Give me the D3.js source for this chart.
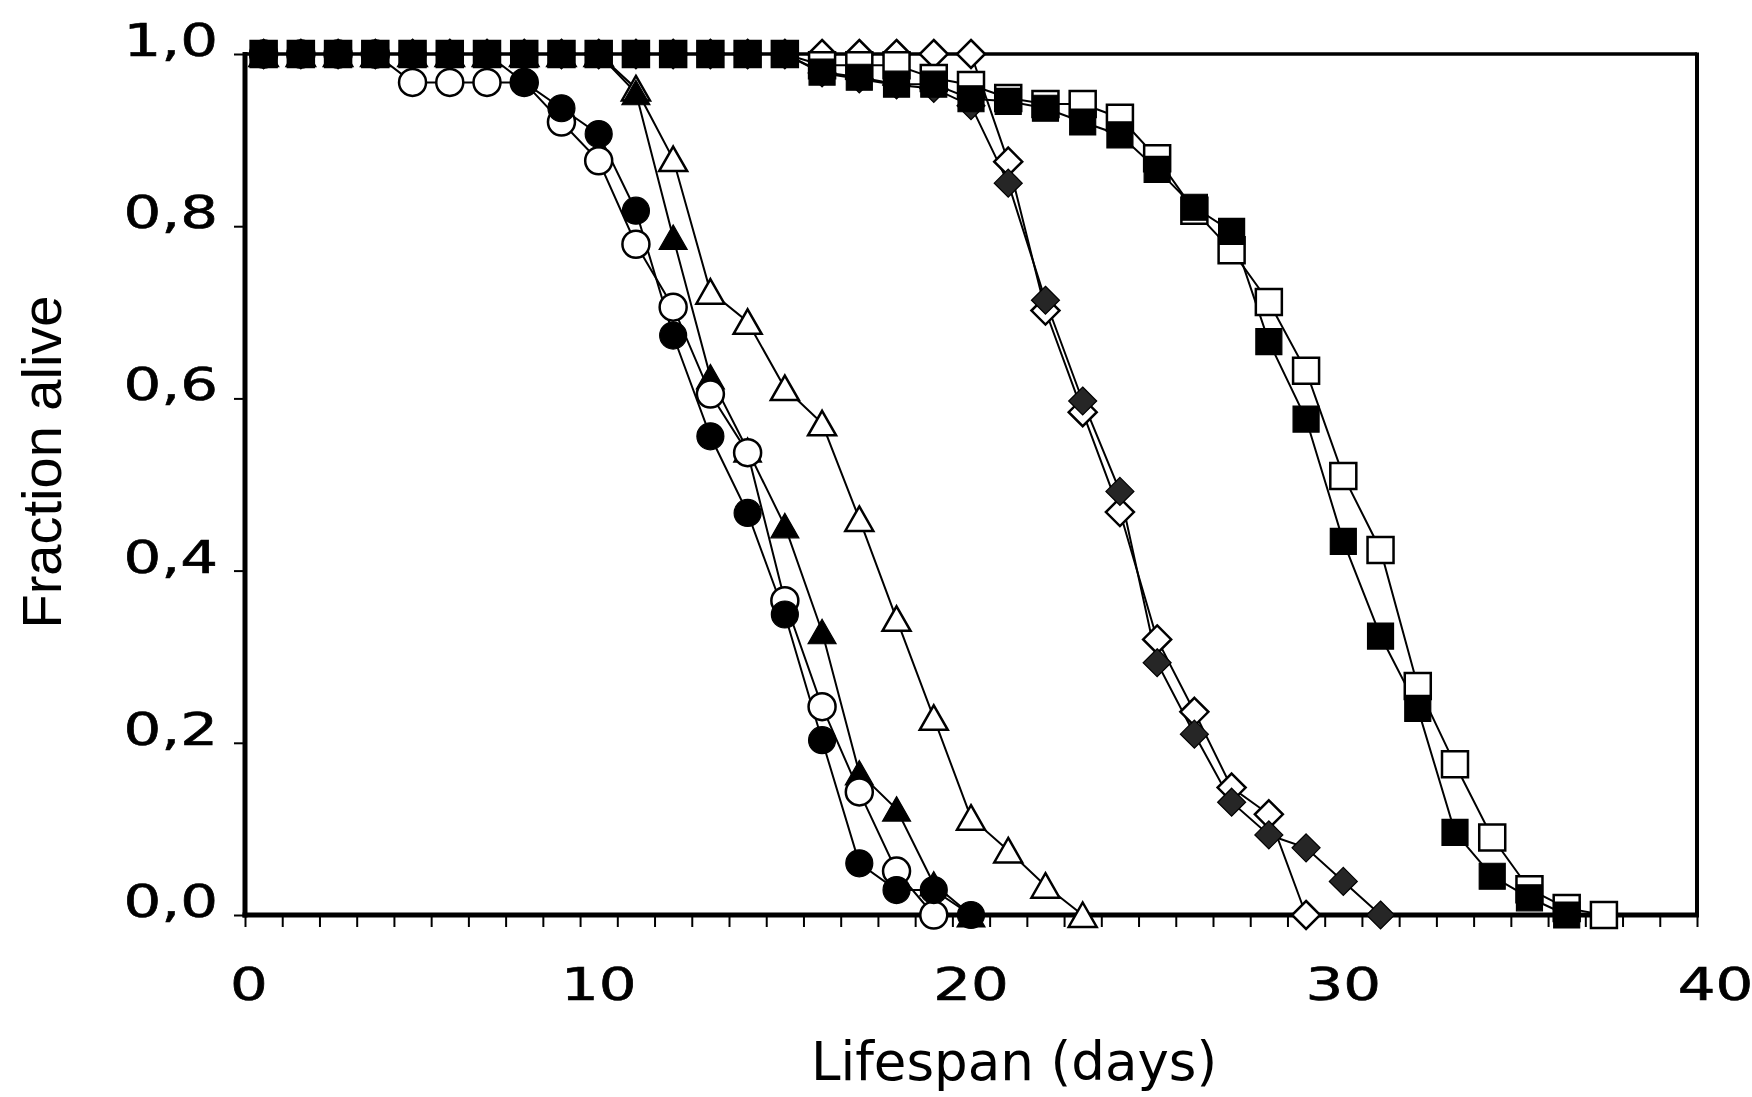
<!DOCTYPE html>
<html>
<head>
<meta charset="utf-8">
<script src="https://cdn.jsdelivr.net/npm/d3@7"></script>
<style>
  html, body { margin: 0; padding: 0; background: #fff; }
  svg { display: block; }
  .tick-label { font-family: "DejaVu Sans", Verdana, sans-serif; font-size: 44px; fill: #000; stroke: #000; stroke-width: 0.6px; }
  .title-x { font-family: "DejaVu Sans", Verdana, sans-serif; font-size: 53px; fill: #000; }
  .title-y { font-family: "Liberation Sans", Arial, sans-serif; font-size: 56px; fill: #000; }
</style>
</head>
<body>
<div id="chart"></div>
<script>
// survival curves, one value per day starting at day 1
const firstDay = 1;

const filledCircles = [1, 1, 1, 1, 1, 1, 1, 0.967, 0.937, 0.907, 0.818, 0.673, 0.556, 0.467,
  0.349, 0.203, 0.06, 0.029, 0.029, 0];
const openCircles = [1, 1, 1, 1, 0.967, 0.967, 0.967, 0.967, 0.921, 0.876, 0.779, 0.706,
  0.605, 0.537, 0.365, 0.242, 0.143, 0.051, 0];
const filledTriangles = [1, 1, 1, 1, 1, 1, 1, 1, 1, 1, 0.955, 0.787, 0.625, 0.54, 0.452,
  0.329, 0.165, 0.123, 0.036, 0];
const openTriangles = [1, 1, 1, 1, 1, 1, 1, 1, 1, 1, 0.96, 0.878, 0.724, 0.689, 0.612,
  0.571, 0.46, 0.344, 0.229, 0.113, 0.075, 0.034, 0];
const filledDiamonds = [1, 1, 1, 1, 1, 1, 1, 1, 1, 1, 1, 1, 1, 1, 1, 0.978, 0.971, 0.964,
  0.96, 0.94, 0.85, 0.714, 0.597, 0.492, 0.293, 0.21, 0.131, 0.093, 0.078, 0.039, 0];
const openDiamonds = [1, 1, 1, 1, 1, 1, 1, 1, 1, 1, 1, 1, 1, 1, 1, 1, 1, 1, 1, 1,
  0.875, 0.702, 0.584, 0.468, 0.32, 0.236, 0.148, 0.117, 0];
const filledSquares = [1, 1, 1, 1, 1, 1, 1, 1, 1, 1, 1, 1, 1, 1, 1, 0.979, 0.973, 0.965,
  0.965, 0.948, 0.945, 0.937, 0.921, 0.906, 0.866, 0.822, 0.794, 0.666, 0.576, 0.434,
  0.324, 0.24, 0.096, 0.045, 0.02, 0];
const openSquares = [1, 1, 1, 1, 1, 1, 1, 1, 1, 1, 1, 1, 1, 1, 1, 0.987, 0.987, 0.987,
  0.972, 0.964, 0.949, 0.942, 0.942, 0.926, 0.879, 0.818, 0.772, 0.712, 0.632, 0.51,
  0.424, 0.266, 0.175, 0.09, 0.03, 0.008, 0];

const xTickLabels = [0, 10, 20, 30, 40];
const yTickValues = [0, 0.2, 0.4, 0.6, 0.8, 1.0];
const xTitle = "Lifespan (days)";
const yTitle = "Fraction alive";

class SurvivalChart {
  constructor(el) {
    this.el = el;
    this.width = 1752;
    this.height = 1097;
    this.setup();
    this.scaffold();
    this.render();
  }

  setup() {
    // frame runs from day 0.5 to day 39.5
    this.x = d3.scaleLinear().domain([0.5, 39.5]).range([245, 1697]);
    this.y = d3.scaleLinear().domain([0, 1]).range([915, 54]);

    const comma = d3.formatLocale({ decimal: ",", thousands: ".", grouping: [3], currency: ["", ""] });
    this.formatY = comma.format(".1f");

    this.line = d3.line()
      .x((d) => this.x(d[0]))
      .y((d) => this.y(d[1]));

    // draw order: later entries sit on top
    this.series = [
      { name: "openDiamonds", values: openDiamonds, shape: "diamond", fill: "#fff" },
      { name: "filledDiamonds", values: filledDiamonds, shape: "diamond", fill: "#262626" },
      { name: "openTriangles", values: openTriangles, shape: "triangle", fill: "#fff" },
      { name: "filledTriangles", values: filledTriangles, shape: "triangle", fill: "#000" },
      { name: "openCircles", values: openCircles, shape: "circle", fill: "#fff" },
      { name: "filledCircles", values: filledCircles, shape: "circle", fill: "#000" },
      { name: "openSquares", values: openSquares, shape: "square", fill: "#fff" },
      { name: "filledSquares", values: filledSquares, shape: "square", fill: "#000" },
    ];
    this.series.forEach((s) => {
      s.points = s.values.map((v, i) => [firstDay + i, v]);
    });

    this.shapes = {
      square: "M-13,-13H13V13H-13Z",
      circle: "M13.5,0A13.5,13.5 0 1,1 -13.5,0A13.5,13.5 0 1,1 13.5,0Z",
      triangle: "M0,-12.5L14,12L-14,12Z",
      diamond: "M0,-14L14,0L0,14L-14,0Z",
    };
  }

  scaffold() {
    this.svg = d3.select(this.el).append("svg")
      .attr("width", this.width)
      .attr("height", this.height)
      .attr("viewBox", [0, 0, this.width, this.height]);

    this.gFrame = this.svg.append("g").attr("class", "frame");
    this.gAxisX = this.svg.append("g").attr("class", "axis axis--x");
    this.gAxisY = this.svg.append("g").attr("class", "axis axis--y");
    this.gLines = this.svg.append("g").attr("class", "lines");
    this.gMarks = this.svg.append("g").attr("class", "marks");
    this.gTitles = this.svg.append("g").attr("class", "titles");
  }

  render() {
    this.renderAxes();
    this.renderFrame();
    this.renderLines();
    this.renderMarks();
    this.renderTitles();
  }

  renderAxes() {
    const [x0, x1] = this.x.domain();
    const halfDays = d3.range(x0, x1 + 0.01, 1);

    this.gAxisX
      .attr("transform", `translate(0,${this.y(0)})`)
      .call(d3.axisBottom(this.x).tickValues(halfDays).tickSize(12).tickFormat(""))
      .call((g) => g.select(".domain").remove())
      .call((g) => g.selectAll(".tick line").attr("stroke", "#000").attr("stroke-width", 2));

    this.gAxisX.selectAll(".tick-label")
      .data(xTickLabels)
      .join("text")
      .attr("class", "tick-label")
      .attr("text-anchor", "middle")
      .attr("transform", (d) => {
        const cx = Math.max(this.x(d), this.x(x0) + 4);
        return `translate(${cx},${1000 - this.y(0)}) scale(1.35,1)`;
      })
      .text((d) => d);

    this.gAxisY
      .attr("transform", `translate(${this.x(x0)},0)`)
      .call(d3.axisLeft(this.y).tickValues(yTickValues).tickSize(11).tickFormat(""))
      .call((g) => g.select(".domain").remove())
      .call((g) => g.selectAll(".tick line").attr("stroke", "#000").attr("stroke-width", 2));

    this.gAxisY.selectAll(".tick-label")
      .data(yTickValues)
      .join("text")
      .attr("class", "tick-label")
      .attr("text-anchor", "end")
      .attr("transform", (d) => `translate(-27,${this.y(d) + 2}) scale(1.35,1)`)
      .text((d) => this.formatY(d));
  }

  renderFrame() {
    const [xa, xb] = this.x.range();
    const [yb, ya] = this.y.range();
    const edges = [
      { x1: xa, y1: ya, x2: xb, y2: ya, w: 3.5 },
      { x1: xb, y1: ya - 1.5, x2: xb, y2: yb, w: 4 },
      { x1: xa, y1: ya - 2, x2: xa, y2: yb + 2.5, w: 5 },
      { x1: xa - 2.5, y1: yb, x2: xb + 2, y2: yb, w: 5 },
    ];
    this.gFrame.selectAll("line")
      .data(edges)
      .join("line")
      .attr("x1", (d) => d.x1)
      .attr("y1", (d) => d.y1)
      .attr("x2", (d) => d.x2)
      .attr("y2", (d) => d.y2)
      .attr("stroke", "#000")
      .attr("stroke-width", (d) => d.w);
  }

  renderLines() {
    this.gLines.selectAll("path")
      .data(this.series)
      .join("path")
      .attr("d", (d) => this.line(d.points))
      .attr("fill", "none")
      .attr("stroke", "#000")
      .attr("stroke-width", 2);
  }

  renderMarks() {
    this.gMarks.selectAll("g.series")
      .data(this.series)
      .join("g")
      .attr("class", (d) => `series series--${d.name}`)
      .each((s, i, nodes) => {
        d3.select(nodes[i]).selectAll("path")
          .data(s.points)
          .join("path")
          .attr("d", this.shapes[s.shape])
          .attr("transform", (d) => `translate(${this.x(d[0])},${this.y(d[1])})`)
          .attr("fill", s.fill)
          .attr("stroke", "#000")
          .attr("stroke-width", s.fill === "#fff" ? 2.5 : 1.2);
      });
  }

  renderTitles() {
    this.gTitles.append("text")
      .attr("class", "title-x")
      .attr("text-anchor", "middle")
      .attr("x", 1014)
      .attr("y", 1080)
      .text(xTitle);

    this.gTitles.append("text")
      .attr("class", "title-y")
      .attr("text-anchor", "middle")
      .attr("transform", "translate(61,462) rotate(-90)")
      .text(yTitle);
  }
}

new SurvivalChart(document.getElementById("chart"));
</script>
</body>
</html>
